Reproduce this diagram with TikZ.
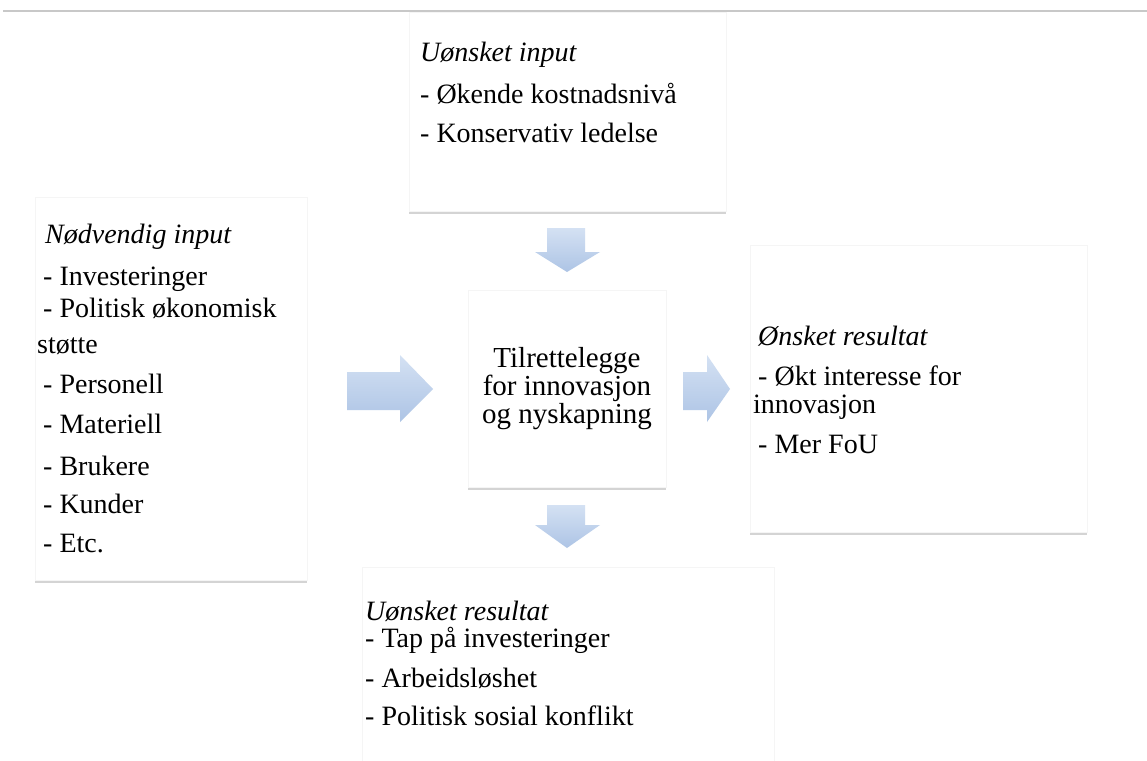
\documentclass[tikz,border=0pt]{standalone}
\usepackage{fontspec}
\setmainfont{Liberation Serif}
\usetikzlibrary{shadows}
\definecolor{arrtop}{HTML}{D4E1F3}
\definecolor{arrbot}{HTML}{ADC4E5}
\definecolor{rulegray}{HTML}{C8C8C8}
\begin{document}
\begin{tikzpicture}[x=1pt,y=-1pt,
  box/.style={fill=white, draw=black!4, line width=0.6pt, inner sep=0pt, anchor=north west,
    drop shadow={shadow xshift=0pt, shadow yshift=-3pt, opacity=0.3, fill=black!55}},
  txt/.style={anchor=base west, inner sep=0pt, font=\fontsize{28}{34}\selectfont},
  ital/.style={anchor=base west, inner sep=0pt, font=\fontsize{28}{34}\selectfont\itshape},
  ctxt/.style={anchor=base, inner sep=0pt, font=\fontsize{29}{34}\selectfont},
  blk/.style={top color=arrtop, bottom color=arrbot, draw=none}]
\useasboundingbox (0,0) rectangle (1147,760);
\clip (0,0) rectangle (1147,760);
\fill[white] (0,0) rectangle (1147,760);
% top rule
\draw[rulegray, line width=1.5pt] (3,11) -- (1147,11);

% boxes
\node[box, minimum width=317pt, minimum height=199pt] (top) at (409,12) {};
\node[box, minimum width=272pt, minimum height=383pt] (left) at (35,197) {};
\node[box, minimum width=198pt, minimum height=197pt] (center) at (468,290) {};
\node[box, minimum width=337pt, minimum height=287pt] (right) at (750,245) {};
\node[box, minimum width=412pt, minimum height=215pt] (bottom) at (362,567) {};

% block arrows
\path[blk] (547,228) -- (585,228) -- (585,252) -- (600,252) -- (567,272) -- (535,252) -- (547,252) -- cycle;
\path[blk] (547,505) -- (585,505) -- (585,525) -- (600,525) -- (567,548) -- (535,525) -- (547,525) -- cycle;
\path[blk] (347,372) -- (400,372) -- (400,355) -- (433,389) -- (400,422) -- (400,410) -- (347,410) -- cycle;
\path[blk] (683,372) -- (707,372) -- (707,355) -- (730,389) -- (707,422) -- (707,410) -- (683,410) -- cycle;

% top box text
\node[ital] (t1) at (420,62) {Uønsket input};
\node[txt] (t2) at (420,103) {- Økende kostnadsnivå};
\node[txt] (t3) at (420,142) {- Konservativ ledelse};

% left box text
\node[ital] (l1) at (45,243) {Nødvendig input};
\node[txt] (l2) at (43,285) {- Investeringer};
\node[txt] (l3) at (43,317) {- Politisk økonomisk};
\node[txt] (l4) at (37,353) {støtte};
\node[txt] (l5) at (43,393) {- Personell};
\node[txt] (l6) at (43,433) {- Materiell};
\node[txt] (l7) at (43,475) {- Brukere};
\node[txt] (l8) at (43,513) {- Kunder};
\node[txt] (l9) at (43,552) {- Etc.};

% center text
\node[ctxt] (c1) at (567,367) {Tilrettelegge};
\node[ctxt] (c2) at (567,395) {for innovasjon};
\node[ctxt] (c3) at (567,423) {og nyskapning};

% right box text
\node[ital] (r1) at (758,345) {Ønsket resultat};
\node[txt] (r2) at (758,385) {- Økt interesse for};
\node[txt] (r3) at (753,413) {innovasjon};
\node[txt] (r4) at (758,453) {- Mer FoU};

% bottom box text
\node[ital] (b1) at (365,620) {Uønsket resultat};
\node[txt] (b2) at (365,647) {- Tap på investeringer};
\node[txt] (b3) at (365,687) {- Arbeidsløshet};
\node[txt] (b4) at (365,725) {- Politisk sosial konflikt};
\end{tikzpicture}
\end{document}
